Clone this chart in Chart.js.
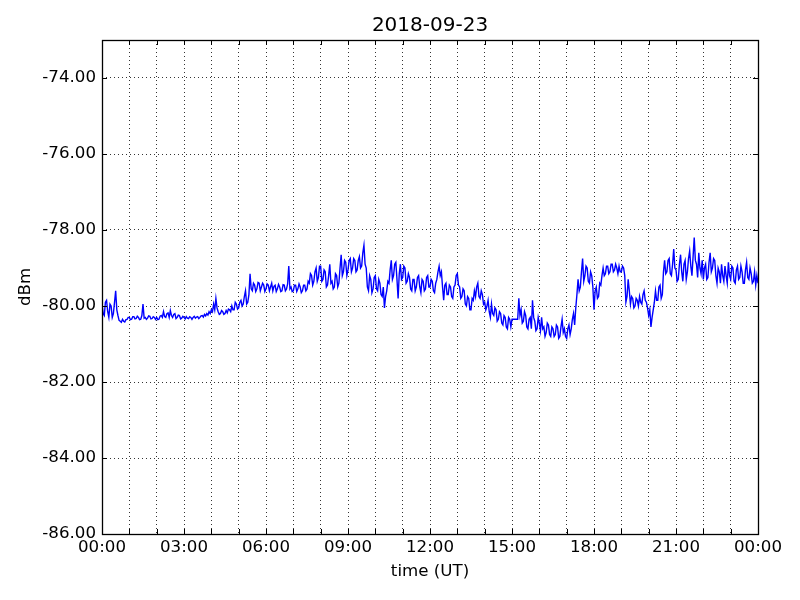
<!DOCTYPE html>
<html>
<head>
<meta charset="utf-8">
<script src="https://cdn.jsdelivr.net/npm/chart.js@4/dist/chart.umd.min.js"></script>
<style>
html,body{margin:0;padding:0;background:#fff;}
#wrap{width:800px;height:600px;}
</style>
</head>
<body>
<div id="wrap"><canvas id="c" width="800" height="600"></canvas></div>
<script>
// ---- data ----
const chartTitle = '2018-09-23';
const xAxisLabel = 'time (UT)';
const yAxisLabel = 'dBm';
const stepMinutes = 2.5; // sample spacing of the values below, starting 00:00
const signalDbm = [
  -79.95,-80.2,-80.25,-79.9,-79.85,-80.15,-80.3,-79.95,-80.0,-80.3,-80.2,-79.9,-79.6,-80.1,-80.25,-80.38,-80.4,-80.43,-80.35,-80.4,-80.42,-80.36,-80.35,-80.3,
  -80.3,-80.36,-80.35,-80.28,-80.28,-80.34,-80.33,-80.27,-80.3,-80.36,-80.35,-80.25,-79.95,-80.32,-80.3,-80.35,-80.32,-80.26,-80.27,-80.34,-80.33,-80.28,-80.3,-80.35,
  -80.3,-80.36,-80.35,-80.27,-80.25,-80.3,-80.15,-80.28,-80.3,-80.2,-80.18,-80.3,-80.12,-80.25,-80.3,-80.22,-80.2,-80.33,-80.3,-80.24,-80.25,-80.34,-80.32,-80.27,
  -80.3,-80.34,-80.28,-80.32,-80.33,-80.28,-80.3,-80.35,-80.3,-80.27,-80.32,-80.29,-80.28,-80.33,-80.3,-80.26,-80.25,-80.29,-80.22,-80.26,-80.2,-80.24,-80.15,-80.2,
  -80.1,-80.15,-79.95,-80.1,-79.8,-80.05,-80.15,-80.22,-80.2,-80.12,-80.15,-80.22,-80.2,-80.12,-80.18,-80.08,-80.1,-80.15,-80.0,-80.1,-80.1,-79.9,-79.95,-80.08,
  -80.05,-79.9,-79.85,-80.0,-79.95,-79.75,-79.6,-79.95,-79.9,-79.7,-79.15,-79.55,-79.6,-79.4,-79.45,-79.62,-79.55,-79.38,-79.4,-79.6,-79.5,-79.4,-79.45,-79.62,
  -79.55,-79.42,-79.45,-79.6,-79.5,-79.4,-79.6,-79.48,-79.45,-79.62,-79.55,-79.43,-79.5,-79.62,-79.6,-79.44,-79.45,-79.6,-79.55,-79.42,-78.95,-79.55,-79.5,-79.62,
  -79.6,-79.45,-79.45,-79.62,-79.55,-79.42,-79.5,-79.65,-79.6,-79.45,-79.45,-79.6,-79.55,-79.35,-79.4,-79.15,-79.2,-79.45,-79.35,-79.1,-79.0,-79.35,-79.25,-78.95,
  -78.95,-79.35,-79.3,-79.05,-79.1,-79.5,-79.45,-79.2,-78.9,-79.4,-79.35,-79.55,-79.5,-79.15,-79.2,-79.5,-79.4,-79.0,-78.65,-79.2,-79.1,-78.8,-78.85,-79.2,
  -79.05,-78.8,-78.75,-79.1,-79.0,-78.75,-78.8,-79.1,-79.05,-78.8,-78.7,-79.0,-78.95,-78.6,-78.4,-78.9,-79.0,-79.5,-79.6,-79.2,-79.3,-79.65,-79.55,-79.25,
  -79.2,-79.55,-79.6,-79.3,-79.4,-79.7,-79.75,-79.5,-80.05,-79.75,-79.6,-79.35,-79.4,-79.05,-78.8,-79.3,-79.2,-78.9,-78.85,-79.3,-79.8,-79.15,-78.9,-79.3,
  -79.25,-78.95,-79.0,-79.4,-79.35,-79.15,-79.25,-79.55,-79.6,-79.3,-79.3,-79.6,-79.5,-79.25,-79.2,-79.5,-79.65,-79.3,-79.35,-79.6,-79.55,-79.25,-79.2,-79.5,
  -79.5,-79.3,-79.35,-79.6,-79.65,-79.4,-79.3,-79.1,-78.95,-79.2,-79.1,-79.5,-79.85,-79.45,-79.4,-79.7,-79.7,-79.45,-79.5,-79.75,-79.8,-79.5,-79.45,-79.2,
  -79.15,-79.45,-79.5,-79.8,-79.75,-79.55,-79.6,-79.95,-80.0,-79.75,-79.8,-80.1,-80.1,-79.8,-79.85,-79.6,-79.75,-79.5,-79.4,-79.75,-79.8,-79.6,-79.7,-79.95,
  -79.9,-80.1,-80.0,-79.85,-80.15,-80.3,-79.95,-80.2,-80.25,-80.05,-80.1,-80.4,-80.35,-80.15,-80.2,-80.45,-80.5,-80.25,-80.3,-80.55,-80.6,-80.3,-80.35,-80.55,
  -80.35,-80.35,-80.35,-80.35,-80.35,-80.35,-79.8,-80.25,-80.1,-80.45,-80.4,-80.15,-80.25,-80.55,-80.6,-80.35,-80.3,-80.6,-79.85,-80.3,-80.4,-80.65,-80.6,-80.3,
  -80.45,-80.65,-80.3,-80.6,-80.55,-80.8,-80.7,-80.45,-80.5,-80.75,-80.8,-80.55,-80.6,-80.8,-80.75,-80.5,-80.55,-80.85,-80.8,-80.55,-80.35,-80.7,-80.6,-80.8,
  -80.85,-80.6,-80.5,-80.75,-80.6,-80.35,-80.2,-80.5,-80.05,-79.7,-79.3,-79.6,-79.5,-79.1,-78.75,-79.35,-79.2,-78.95,-79.0,-79.35,-79.4,-79.1,-79.2,-79.5,
  -80.1,-79.6,-79.5,-79.8,-79.75,-79.4,-79.45,-79.2,-79.0,-79.2,-79.15,-78.95,-78.95,-79.15,-79.1,-78.9,-78.9,-79.1,-79.05,-78.9,-79.0,-79.15,-78.95,-79.1,
  -79.1,-78.95,-79.0,-79.2,-79.9,-79.75,-79.3,-79.6,-79.95,-79.75,-79.8,-80.05,-80.0,-79.8,-79.85,-80.0,-79.75,-79.9,-79.95,-79.7,-79.6,-79.85,-79.9,-80.05,
  -80.25,-80.1,-80.55,-80.3,-80.1,-79.9,-79.6,-79.85,-79.85,-79.5,-79.45,-79.8,-79.7,-79.1,-78.8,-79.15,-79.1,-78.8,-78.75,-79.15,-79.2,-78.9,-78.5,-79.0,
  -79.05,-79.35,-79.3,-78.9,-78.65,-79.1,-79.35,-78.9,-78.8,-79.3,-79.1,-78.75,-78.55,-78.95,-79.2,-78.7,-78.2,-78.8,-78.9,-79.25,-78.6,-79.0,-79.15,-78.8,
  -79.3,-79.0,-78.9,-79.3,-79.25,-78.85,-78.6,-79.1,-79.0,-78.75,-78.8,-79.2,-79.4,-79.0,-79.1,-79.4,-78.9,-79.2,-79.35,-78.95,-79.2,-79.4,-78.85,-79.2,
  -79.3,-78.95,-79.0,-79.35,-79.4,-79.05,-78.95,-79.3,-79.25,-78.95,-79.1,-79.4,-79.4,-79.05,-78.85,-79.25,-79.3,-79.0,-79.15,-79.4,-79.35,-79.1,-79.45,-79.2,
  -79.4
];
const xTickHours = [0,3,6,9,12,15,18,21,24];
const xTickLabels = ['00:00','03:00','06:00','09:00','12:00','15:00','18:00','21:00','00:00'];
const xGridHours = [0,1,2,3,4,5,6,7,8,9,10,11,12,13,14,15,16,17,18,19,20,21,22,23,24];
const yTickValues = [-86,-84,-82,-80,-78,-76,-74];
const yMin = -86, yMax = -73;

// ---- build ----
const points = signalDbm.map((v, i) => ({x: i * stepMinutes / 60, y: v}));
const FONT = 'DejaVu Sans';

const frameAndTicks = {
  id: 'frameAndTicks',
  afterDraw(chart) {
    const {ctx, chartArea: a, scales: {x, y}} = chart;
    ctx.save();
    ctx.strokeStyle = '#000';
    ctx.lineWidth = 1;
    ctx.beginPath();
    yTickValues.forEach(v => {
      const py = Math.round(y.getPixelForValue(v)) + 0.5;
      ctx.moveTo(a.left, py); ctx.lineTo(a.left + 5, py);
      ctx.moveTo(a.right, py); ctx.lineTo(a.right - 5, py);
    });
    xGridHours.forEach(h => {
      const px = Math.round(x.getPixelForValue(h)) + 0.5;
      ctx.moveTo(px, a.bottom); ctx.lineTo(px, a.bottom - 5);
      ctx.moveTo(px, a.top); ctx.lineTo(px, a.top + 5);
    });
    ctx.stroke();
    ctx.lineWidth = 1.3;
    ctx.strokeRect(Math.round(a.left) + 0.5, Math.round(a.top) + 0.5,
                   Math.round(a.right - a.left), Math.round(a.bottom - a.top));
    ctx.restore();
  }
};

new Chart(document.getElementById('c'), {
  type: 'line',
  data: {
    datasets: [{
      data: points,
      borderColor: '#0000ff',
      borderWidth: 1.4,
      pointRadius: 0,
      fill: false,
      tension: 0
    }]
  },
  options: {
    responsive: false,
    animation: false,
    layout: {padding: {left: 0, right: 42, top: 0, bottom: 0}},
    plugins: {
      legend: {display: false},
      tooltip: {enabled: false},
      title: {
        display: true, text: chartTitle, color: '#000', fullSize: false,
        font: {family: FONT, size: 20, weight: 'normal', lineHeight: 1.0},
        padding: {top: 16, bottom: 4}
      }
    },
    scales: {
      x: {
        type: 'linear', min: 0, max: 24,
        afterBuildTicks(s) { s.ticks = xGridHours.map(v => ({value: v})); },
        afterFit(s) { s.height = 66; },
        ticks: {
          autoSkip: false, maxRotation: 0, padding: 4, color: '#000',
          font: {family: FONT, size: 16.67},
          callback(v) { const i = xTickHours.indexOf(v); return i >= 0 ? xTickLabels[i] : ''; }
        },
        grid: {color: '#000', lineWidth: 0.8, drawTicks: false},
        border: {display: false, dash: [1, 3]},
        title: {display: true, text: xAxisLabel, color: '#000',
          font: {family: FONT, size: 16.67, lineHeight: 1.2}, padding: {top: 0, bottom: 18}}
      },
      y: {
        type: 'linear', min: yMin, max: yMax,
        afterBuildTicks(s) { s.ticks = yTickValues.map(v => ({value: v})); },
        afterFit(s) { s.width = 102; },
        ticks: {
          padding: 6, color: '#000',
          font: {family: FONT, size: 16.67},
          callback(v) { return v.toFixed(2); }
        },
        grid: {color: '#000', lineWidth: 0.8, drawTicks: false},
        border: {display: false, dash: [1, 3]},
        title: {display: true, text: yAxisLabel, color: '#000',
          font: {family: FONT, size: 16.67, lineHeight: 1.2}, padding: {top: 16, bottom: 0}}
      }
    }
  },
  plugins: [frameAndTicks]
});
</script>
</body>
</html>
